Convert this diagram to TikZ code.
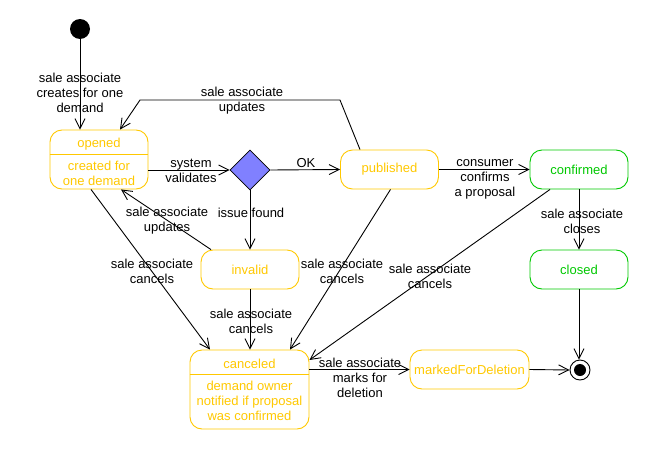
\documentclass[tikz,border=0pt]{standalone}
\usepackage{fontspec}
\setmainfont{Liberation Sans}
\usetikzlibrary{arrows.meta,shapes.geometric}
\definecolor{stateorange}{RGB}{255,200,0}
\definecolor{stategreen}{RGB}{0,200,0}
\definecolor{choicefill}{RGB}{128,128,255}
\begin{document}
\begin{tikzpicture}[x=1pt,y=-1pt,
  every node/.style={font=\fontsize{13}{15}\selectfont},
  state/.style={draw, rounded corners=12pt, minimum width=98pt, minimum height=39pt,
    inner sep=0pt, line width=0.9pt},
  ostate/.style={state, draw=stateorange, text=stateorange},
  gstate/.style={state, draw=stategreen, text=stategreen},
  stxt/.style={inner sep=0pt, align=center, text=stateorange},
  lbl/.style={inner sep=0pt, align=center, text=black},
  tr/.style={draw, line width=0.9pt, -{Straight Barb[length=10pt,width=10pt,line width=0.9pt]}},
  divider/.style={draw=stateorange, line width=0.9pt}]
\useasboundingbox (0,0) rectangle (659,450);

% pseudo states
\node[circle, fill=black, minimum size=20pt, inner sep=0pt] (init) at (80,29) {};
\node[circle, draw=black, line width=0.9pt, minimum size=20pt, inner sep=0pt] (final) at (580,370) {};
\node[circle, fill=black, minimum size=12pt, inner sep=0pt] (finaldot) at (final) {};
\node[diamond, draw=black, fill=choicefill, minimum width=40pt, minimum height=40pt,
  inner sep=0pt, line width=0.8pt] (choice) at (250,170) {};

% states
\node[ostate, minimum height=59pt] (opened) at (99,159.5) {};
\node[stxt] (openedtitle) at (99,144) {opened};
\node[stxt] (openedbody) at (99,173) {created for\\one demand};
\draw[divider] (opened.west |- 0,154) -- (opened.east |- 0,154);

\node[ostate] (published) at (389.5,169.5) {\raisebox{-1pt}{published}};
\node[gstate] (confirmed) at (579,169.5) {\raisebox{-1pt}{confirmed}};
\node[gstate] (closed) at (579,269.5) {\raisebox{-1pt}{closed}};
\node[ostate] (invalid) at (250,269.5) {\raisebox{-1pt}{invalid}};
\node[ostate, minimum width=119pt] (marked) at (469.5,369.5) {\raisebox{-1pt}{markedForDeletion}};

\node[ostate, minimum width=119pt, minimum height=79pt] (canceled) at (249.5,389.5) {};
\node[stxt] (canceledtitle) at (249.5,364) {canceled};
\node[stxt] (canceledbody) at (249.5,401) {demand owner\\notified if proposal\\was confirmed};
\draw[divider] (canceled.west |- 0,374) -- (canceled.east |- 0,374);

% transitions
\draw[tr] (init) -- (init |- opened.north);
\node[lbl] (l1) at (80,93) {sale associate\\creates for one\\demand};

\coordinate (upA) at (340,100);
\coordinate (upB) at (140,100);
\draw[tr] ([xshift=-29.5pt]published.north) -- (upA) -- (upB) -- ([xshift=21pt]opened.north);
\node[lbl] (l2) at (242,101) {sale associate\\updates};

\draw[tr] (opened.east |- choice.west) -- (choice.west);
\node[lbl] (l3) at (191,171) {system\\validates};

\draw[tr] (choice.east) -- (published.west);
\node[lbl] (l4) at (306,163) {OK};

\draw[tr] (choice.south) -- (choice.south |- invalid.north);
\node[lbl] (l5) at (251,213) {issue found};

\draw[tr] ([xshift=-39pt]invalid.north) -- ([xshift=22pt]opened.south);
\node[lbl] (l6) at (167,221) {sale associate\\updates};

\draw[tr] ([xshift=-8pt]opened.south) -- ([xshift=-39.5pt]canceled.north);
\node[lbl] (l7) at (152,271) {sale associate\\cancels};

\draw[tr] (invalid.south) -- (invalid.south |- canceled.north);
\node[lbl] (l8) at (251,321) {sale associate\\cancels};

\draw[tr] ([xshift=1pt]published.south) -- ([xshift=40.5pt]canceled.north);
\node[lbl] (l9) at (342,271) {sale associate\\cancels};

\draw[tr] (published.east) -- (confirmed.west);
\node[lbl] (l10) at (485,179) {consumer\\confirms\\a proposal};

\draw[tr] ([xshift=-29pt]confirmed.south) -- ([yshift=29.5pt]canceled.east);
\node[lbl] (l11) at (430,276) {sale associate\\cancels};

\draw[tr] (confirmed.south) -- (closed.north);
\node[lbl] (l12) at (582,221) {sale associate\\closes};

\draw[tr] (canceled.east |- marked.west) -- (marked.west);
\node[lbl] (l13) at (360,378) {sale associate\\marks for\\deletion};

\draw[tr] (marked.east) -- (final.west);
\draw[tr] (closed.south) -- (closed.south |- final.north);
\end{tikzpicture}
\end{document}
